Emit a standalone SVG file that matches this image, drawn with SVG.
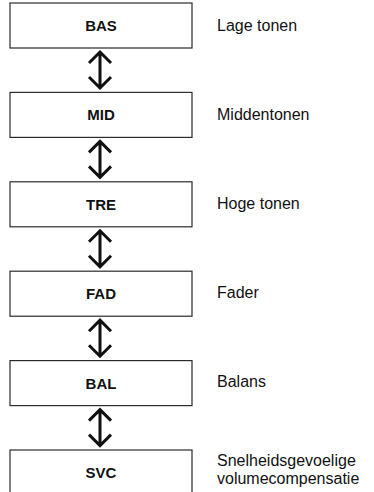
<svg xmlns="http://www.w3.org/2000/svg" width="374" height="492" viewBox="0 0 374 492">
<defs>
<style>
.box{fill:#fff;stroke:#2b2b2b;stroke-width:1.2}
.bt{font-family:"Liberation Sans",Arial,sans-serif;font-weight:bold;font-size:15px;fill:#111;text-anchor:middle}
.lt{font-family:"Liberation Sans",Arial,sans-serif;font-size:16px;fill:#111}
.arr{fill:none;stroke:#111;stroke-width:3;stroke-linejoin:miter}
</style>
<path id="da" class="arr" d="M100,52 V88 M89,63 L100,52 L111,63 M89,77 L100,88 L111,77"/>
</defs>
<g id="connectors">
<use href="#da"/>
<use href="#da" y="89.4"/>
<use href="#da" y="178.8"/>
<use href="#da" y="268.2"/>
<use href="#da" y="357.6"/>
</g>
<g id="BAS"><rect class="box" x="10" y="3" width="182" height="45"/><text class="bt" x="101" y="31">BAS</text></g>
<g id="MID"><rect class="box" x="10" y="92.4" width="182" height="45"/><text class="bt" x="101" y="120.4">MID</text></g>
<g id="TRE"><rect class="box" x="10" y="181.8" width="182" height="45"/><text class="bt" x="101" y="209.8">TRE</text></g>
<g id="FAD"><rect class="box" x="10" y="271.2" width="182" height="45"/><text class="bt" x="101" y="299.2">FAD</text></g>
<g id="BAL"><rect class="box" x="10" y="360.6" width="182" height="45"/><text class="bt" x="101" y="388.6">BAL</text></g>
<g id="SVC"><rect class="box" x="10" y="450" width="182" height="45"/><text class="bt" x="101" y="478">SVC</text></g>
<g id="labels">
<text class="lt" x="217" y="31">Lage tonen</text>
<text class="lt" x="217" y="120">Middentonen</text>
<text class="lt" x="217" y="209">Hoge tonen</text>
<text class="lt" x="217" y="298">Fader</text>
<text class="lt" x="217" y="387">Balans</text>
<text class="lt" x="217" y="466">Snelheidsgevoelige</text>
<text class="lt" x="217" y="484">volumecompensatie</text>
</g>
</svg>
